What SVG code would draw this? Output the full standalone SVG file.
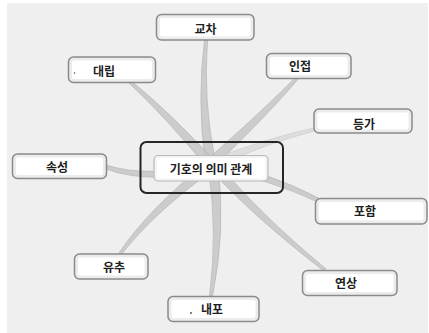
<svg xmlns="http://www.w3.org/2000/svg" width="429" height="333" viewBox="0 0 429 333">
<style>
.bg{fill:#efefef}
.band{fill:#c6c6c6;stroke:#ababab;stroke-width:0.7;opacity:0.85}
.band.light{fill:#dadada;stroke:#c8c8c8}
.box{fill:#ececec;stroke:#8a8a8a;stroke-width:1.5}
.inner{fill:#ffffff}
.lbl{font-family:"Noto Sans CJK KR","Noto Sans",sans-serif;font-weight:bold;font-size:12px;fill:#1e1e1e;text-anchor:middle;dominant-baseline:central}
</style>
<rect x="0" y="0" width="429" height="333" fill="#ffffff"/>
<rect class="bg" x="7" y="3" width="421" height="330"/>
<g id="connectors">
<path class="band" d="M207.5,40 Q203,100 215,160 L205,160 Q197,100 204.5,40 Z"/>
<path class="band" d="M131.1,81 Q167.2,109.9 213.6,159.6 L206.4,166.5 Q162.8,114.1 128.9,83 Z"/>
<path class="band" d="M298.1,79.1 Q272.1,110.1 215.5,165.6 L208.5,158.4 Q267.9,105.9 295.9,76.9 Z"/>
<path class="band light" d="M316.5,130.4 Q262.8,144.4 213.3,167.8 L210.7,160.2 Q261.2,139.6 315.5,127.6 Z"/>
<path class="band" d="M106,169 Q150,185 212,170 L212,162 Q150,179 106,165 Z"/>
<path class="band" d="M317.4,201.9 Q269.1,178.9 210.8,168.8 L213.2,161.2 Q270.9,173.1 318.6,198.1 Z"/>
<path class="band" d="M121,255.1 Q152.1,214.1 213.5,169.6 L206.5,162.4 Q147.9,209.9 119,252.9 Z"/>
<path class="band" d="M212.5,296 Q226,230 218,166 L208,166 Q218,230 209.5,296 Z"/>
<path class="band" d="M326,268.9 Q257.1,211.8 217.4,162.4 L210.6,169.7 Q252.9,216.2 324,271.1 Z"/>
</g>
<g id="center">
<rect x="140.5" y="142" width="142.5" height="51" rx="6" fill="none" stroke="#262626" stroke-width="2"/>
<rect x="154" y="155.5" width="114" height="25.5" rx="4" fill="#f4f4f4" stroke="#b8b8b8" stroke-width="1.2"/>
<rect class="inner" x="157" y="158" width="108" height="20.5" rx="2"/>
<text class="lbl" x="211" y="168.5">기호의 의미 관계</text>
</g>
<g id="n-gyocha">
<rect class="box" x="156.5" y="14.5" width="97.5" height="25.5" rx="5"/>
<rect class="inner" x="160" y="18" width="90.5" height="18.5" rx="2"/>
<text class="lbl" x="205.5" y="28.5">교차</text>
</g>
<g id="n-daerip">
<rect class="box" x="68.5" y="57" width="87" height="25.5" rx="5"/>
<rect class="inner" x="72" y="60.5" width="80" height="18.5" rx="2"/>
<circle cx="74.5" cy="73" r="0.8" fill="#555"/>
<text class="lbl" x="104" y="70">대립</text>
</g>
<g id="n-injeop">
<rect class="box" x="266.5" y="53.5" width="84.5" height="25" rx="5" stroke="#777"/>
<rect class="inner" x="270" y="57" width="77.5" height="18" rx="2"/>
<text class="lbl" x="300" y="65.5">인접</text>
</g>
<g id="n-deungga">
<rect class="box" x="314" y="109" width="98" height="24" rx="5" stroke="#d2d2d2" fill="#f6f6f6"/>
<rect class="inner" x="317.5" y="112.5" width="91" height="17" rx="2"/>
<text class="lbl" x="364" y="123.5">등가</text>
</g>
<g id="n-sokseong">
<rect class="box" x="12.5" y="154" width="94" height="24.5" rx="5" stroke="#b2b2b2" fill="#f2f2f2"/>
<rect class="inner" x="16" y="157.5" width="87" height="17.5" rx="2"/>
<text class="lbl" x="57" y="166.5">속성</text>
</g>
<g id="n-poham">
<rect class="box" x="315.5" y="198.5" width="111.5" height="25.5" rx="5" stroke="#999"/>
<rect class="inner" x="319" y="202" width="104.5" height="18.5" rx="2"/>
<text class="lbl" x="365" y="210.5">포함</text>
</g>
<g id="n-yuchu">
<rect class="box" x="74.5" y="254" width="73.5" height="25" rx="5"/>
<rect class="inner" x="78" y="257.5" width="66.5" height="18" rx="2"/>
<text class="lbl" x="114" y="266">유추</text>
</g>
<g id="n-yeonsang">
<rect class="box" x="302.5" y="270.5" width="94.5" height="25" rx="5" stroke="#999"/>
<rect class="inner" x="306" y="274" width="87.5" height="18" rx="2"/>
<text class="lbl" x="346" y="282.5">연상</text>
</g>
<g id="n-naepo">
<rect class="box" x="168" y="296.5" width="91" height="25" rx="5"/>
<rect class="inner" x="171.5" y="300" width="84" height="18" rx="2"/>
<circle cx="191" cy="313" r="0.9" fill="#444"/>
<text class="lbl" x="212" y="308.5">내포</text>
</g>
</svg>
